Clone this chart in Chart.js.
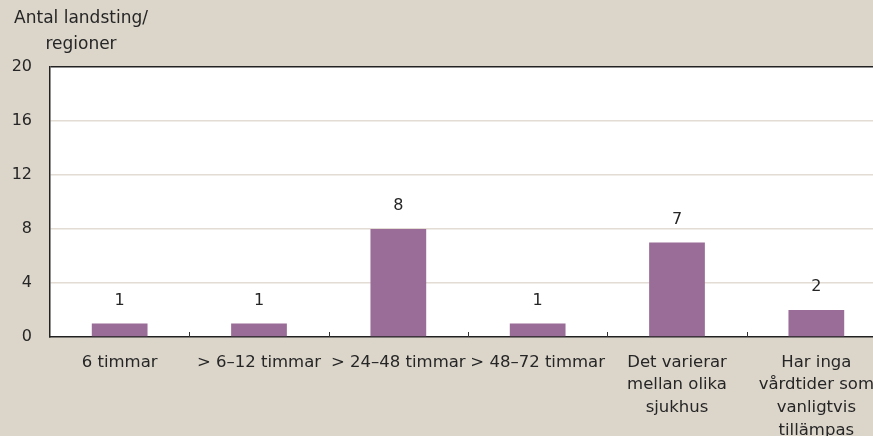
<!DOCTYPE html>
<html>
<head>
<meta charset="utf-8">
<script src="https://cdn.jsdelivr.net/npm/chart.js@4.4.0/dist/chart.umd.min.js"></script>
<style>
  html, body { margin: 0; padding: 0; overflow: hidden; background: #dbd5ca; }
  #wrap { width: 892px; height: 436px; }
</style>
</head>
<body>
<div id="wrap"><canvas id="myChart"></canvas></div>
<script>
// Data

const categories = [
  "6 timmar",
  "> 6–12 timmar",
  "> 24–48 timmar",
  "> 48–72 timmar",
  ["Det varierar", "mellan olika", "sjukhus"],
  ["Har inga", "vårdtider som", "vanligtvis", "tillämpas"],
];
const values = [1, 1, 8, 1, 7, 2];
const yTicks = [0, 4, 8, 12, 16, 20];
const yTitle = ["Antal landsting/", "regioner"];

const fontFamily = "'DejaVu Sans', sans-serif";
const textColor = "#262626";

// Plugins

const background = {
  id: "background",
  beforeDraw(chart) {
    const { ctx, chartArea } = chart;
    ctx.save();
    ctx.fillStyle = "#dbd5ca";
    ctx.fillRect(0, 0, chart.width, chart.height);
    ctx.fillStyle = "#fff";
    ctx.fillRect(chartArea.left, chartArea.top, chartArea.right - chartArea.left, chartArea.bottom - chartArea.top);
    ctx.restore();
  },
};

const extras = {
  id: "extras",
  afterDraw(chart) {
    const { ctx, chartArea } = chart;
    const x = chart.scales.x;
    ctx.save();
    // inward ticks between categories
    ctx.strokeStyle = "#333";
    ctx.lineWidth = 1;
    const half = (x.getPixelForValue(1) - x.getPixelForValue(0)) / 2;
    for (let i = 1; i < categories.length; i++) {
      const px = Math.round(x.getPixelForValue(i) - half) + 0.5;
      ctx.beginPath();
      ctx.moveTo(px, chartArea.bottom);
      ctx.lineTo(px, chartArea.bottom - 5);
      ctx.stroke();
    }
    // value labels
    ctx.fillStyle = textColor;
    ctx.font = "16px " + fontFamily;
    ctx.textAlign = "center";
    ctx.textBaseline = "middle";
    const meta = chart.getDatasetMeta(0);
    meta.data.forEach((bar, i) => {
      ctx.fillText(values[i], bar.x, bar.y - 23);
    });
    // y title
    ctx.font = "17px " + fontFamily;
    ctx.fillText(yTitle[0], 81, 19);
    ctx.fillText(yTitle[1], 81, 45);
    ctx.restore();
  },
};

// Chart

const ctx = document.getElementById("myChart").getContext("2d");
const chart = new Chart(ctx, {
  type: "bar",
  data: {
    labels: categories,
    datasets: [
      {
        data: values,
        backgroundColor: "#9a6c98",
        barPercentage: 0.4,
        categoryPercentage: 1,
      },
    ],
  },
  options: {
    responsive: true,
    maintainAspectRatio: false,
    animation: false,
    layout: { padding: { top: 67, left: 0, right: 6, bottom: 0 } },
    plugins: {
      legend: { display: false },
      tooltip: { enabled: false },
    },
    scales: {
      x: {
        grid: { display: false },
        border: { display: true, color: "#222", width: 1.5 },
        ticks: {
          color: textColor,
          font: { family: fontFamily, size: 16.5, lineHeight: 1.38 },
          padding: 6,
          maxRotation: 0,
          autoSkip: false,
        },
        afterFit(scale) {
          scale.height = 99;
        },
      },
      y: {
        min: 0,
        max: 20,
        afterBuildTicks(scale) {
          scale.ticks = yTicks.map(v => ({ value: v }));
        },
        grid: {
          drawTicks: false,
          color: c => (c.tick && c.tick.value === 20 ? "#222" : "#e2dcd4"),
          lineWidth: 1.5,
        },
        border: { display: true, color: "#222", width: 1.5 },
        ticks: {
          color: textColor,
          font: { family: fontFamily, size: 16 },
          padding: 18,
        },
        afterFit(scale) {
          scale.width = 50;
        },
      },
    },
  },
  plugins: [background, extras],
});
</script>
</body>
</html>
